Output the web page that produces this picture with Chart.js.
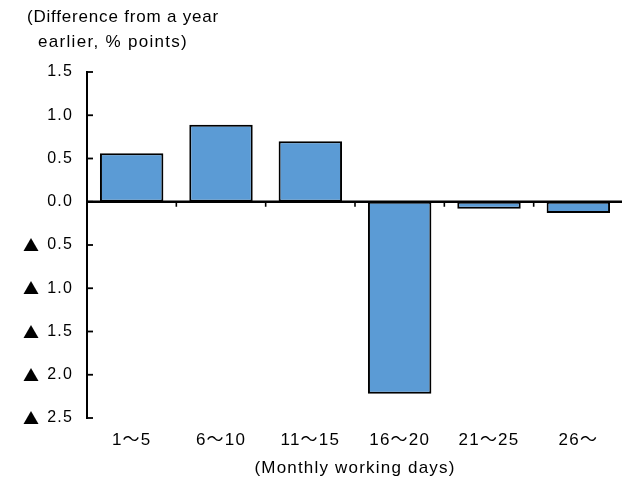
<!DOCTYPE html>
<html>
<head>
<meta charset="utf-8">
<script src="https://cdn.jsdelivr.net/npm/chart.js@4.4.0/dist/chart.umd.min.js"></script>
<style>
    html, body { margin: 0; padding: 0; background: #fff; }
    #chart { display: block; }
</style>
</head>
<body>
<canvas id="chart" width="623" height="483"></canvas>
<script>
// Chart data
const categories = ['1\u301c5', '6\u301c10', '11\u301c15', '16\u301c20', '21\u301c25', '26\u301c'];
const diffValues = [0.56, 0.89, 0.70, -2.22, -0.08, -0.13];
const yTicks = [1.5, 1.0, 0.5, 0.0, -0.5, -1.0, -1.5, -2.0, -2.5];
const yTitleLines = ['(Difference from a year', ' earlier, % points)'];
const xTitle = '(Monthly working days)';

const FONT = "'Liberation Sans', Arial, 'Noto Sans CJK JP', sans-serif";

// wider tracking for all library text, like the original
const tracking = {
    id: 'tracking',
    beforeDraw(chart) {
        chart.ctx.letterSpacing = '1.2px';
    }
};

// Draws the inside tick marks, the zero line, the ▲ signs and the y title
const axisExtras = {
    id: 'axisExtras',
    afterDatasetsDraw(chart) {
        const ctx = chart.ctx;
        const x = chart.scales.x;
        const y = chart.scales.y;
        const area = chart.chartArea;
        const zeroY = y.getPixelForValue(0);

        ctx.save();
        ctx.strokeStyle = '#000';

        // y ticks pointing into the plot
        ctx.lineWidth = 1.8;
        yTicks.forEach(v => {
            const py = y.getPixelForValue(v);
            ctx.beginPath();
            ctx.moveTo(area.left, py);
            ctx.lineTo(area.left + 6, py);
            ctx.stroke();
        });

        // zero line
        ctx.lineWidth = 2.4;
        ctx.beginPath();
        ctx.moveTo(area.left, zeroY);
        ctx.lineTo(area.right - 1, zeroY);
        ctx.stroke();

        // category boundary ticks below the zero line
        ctx.lineWidth = 1.6;
        for (let i = 1; i < categories.length; i++) {
            const px = (x.getPixelForValue(i - 1) + x.getPixelForValue(i)) / 2;
            ctx.beginPath();
            ctx.moveTo(px, zeroY);
            ctx.lineTo(px, zeroY + 5);
            ctx.stroke();
        }

        // ▲ marks negative tick values
        ctx.fillStyle = '#000';
        ctx.letterSpacing = '0px';
        ctx.font = "16px 'Noto Sans CJK JP', sans-serif";
        ctx.textAlign = 'center';
        ctx.textBaseline = 'middle';
        yTicks.filter(v => v < 0).forEach(v => {
            ctx.fillText('\u25b2', 31, y.getPixelForValue(v));
        });

        // y axis title (top left)
        ctx.font = '17px ' + FONT;
        ctx.textAlign = 'left';
        ctx.letterSpacing = '0.8px';
        ctx.fillText(yTitleLines[0], 27, 17);
        ctx.letterSpacing = '1.3px';
        ctx.fillText(yTitleLines[1], 32, 42);
        ctx.restore();
    }
};

const ctx = document.getElementById('chart').getContext('2d');
new Chart(ctx, {
    type: 'bar',
    data: {
        labels: categories,
        datasets: [{
            data: diffValues,
            backgroundColor: '#5B9BD5',
            borderColor: '#000',
            borderWidth: 2,
            borderSkipped: false,
            categoryPercentage: 1.0,
            barPercentage: 0.71
        }]
    },
    options: {
        responsive: false,
        animation: false,
        layout: { padding: { left: 0, right: 0, top: 72, bottom: 0 } },
        plugins: {
            legend: { display: false },
            tooltip: { enabled: false }
        },
        scales: {
            x: {
                grid: { display: false, drawTicks: false },
                border: { display: false },
                ticks: {
                    color: '#000',
                    padding: 12,
                    maxRotation: 0,
                    font: { family: FONT, size: 17 }
                },
                title: {
                    display: true,
                    text: xTitle,
                    color: '#000',
                    padding: { top: 0, bottom: 4 },
                    font: { family: FONT, size: 17 }
                },
                afterFit(scale) { scale.height = 65; }
            },
            y: {
                min: -2.5,
                max: 1.5,
                grid: { display: false, drawTicks: false },
                border: { display: true, color: '#000', width: 2 },
                afterBuildTicks(scale) {
                    scale.ticks = yTicks.map(v => ({ value: v }));
                },
                ticks: {
                    color: '#000',
                    padding: 14,
                    font: { family: FONT, size: 16 },
                    callback: v => Math.abs(v).toFixed(1)
                },
                afterFit(scale) { scale.width = 87; }
            }
        }
    },
    plugins: [tracking, axisExtras]
});
</script>
</body>
</html>
